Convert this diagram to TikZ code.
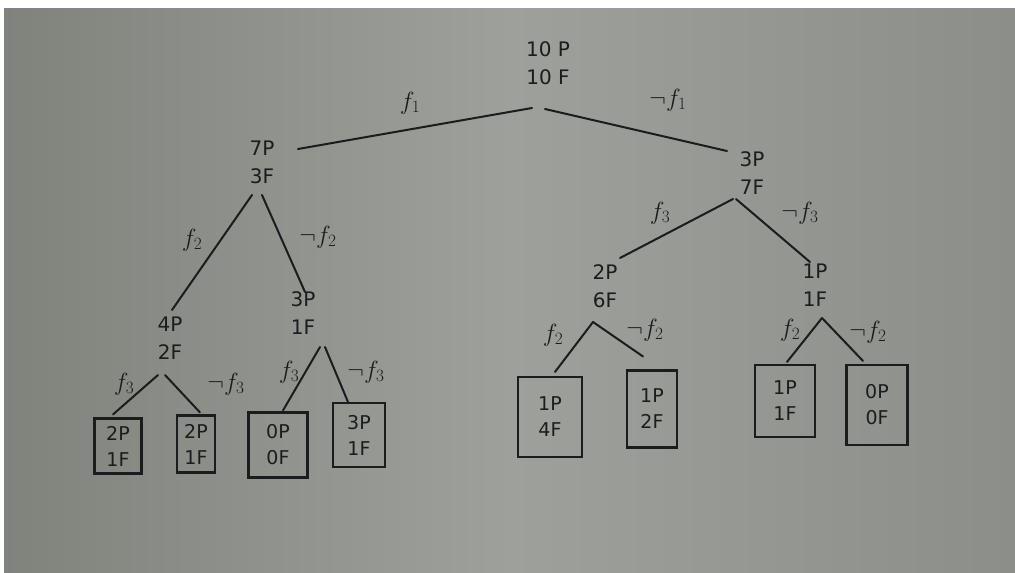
\documentclass[tikz,border=0pt]{standalone}
\usepackage{fontspec}
\setmainfont{DejaVu Sans}
\definecolor{ink}{RGB}{28,28,30}
\definecolor{paperL}{RGB}{128,130,124}
\definecolor{paperM}{RGB}{158,160,155}
\definecolor{paperR}{RGB}{140,142,137}
\tikzset{
  inner/.style={align=center, inner sep=0pt, font=\fontsize{20}{28}\selectfont, text=ink},
  leaf/.style={draw=ink, line width=2.1pt, align=center, inner sep=0pt, font=\fontsize{19}{26}\selectfont, text=ink},
  lbl/.style={inner sep=0pt, font=\fontsize{24}{26}\selectfont, text=ink},
  branch/.style={draw=ink, line width=2pt, line cap=round}
}
\begin{document}
\begin{tikzpicture}[x=1pt,y=-1pt]
\useasboundingbox (0,0) rectangle (1015,573);
\fill[white] (0,0) rectangle (1015,573);
\shade[left color=paperL, right color=paperR, middle color=paperM] (4,8) rectangle (1015,573);

% inner nodes
\node[inner] (root) at (548,63) {10 P\\10 F};
\node[inner] (n7) at (262,162) {7P\\3F};
\node[inner] (n3) at (752,173) {3P\\7F};
\node[inner] (n4) at (170,338) {4P\\2F};
\node[inner] (n31) at (303,313) {3P\\1F};
\node[inner] (n26) at (605,286) {2P\\6F};
\node[inner] (n11) at (815,285) {1P\\1F};

% leaves
\node[leaf, minimum width=47, minimum height=55] (L1) at (118,446) {2P\\1F};
\node[leaf, minimum width=38, minimum height=57] (L2) at (196,444) {2P\\1F};
\node[leaf, minimum width=59, minimum height=65] (L3) at (278,445) {0P\\0F};
\node[leaf, minimum width=52, minimum height=64] (L4) at (359,435) {3P\\1F};
\node[leaf, minimum width=64, minimum height=80] (R1) at (550,417) {1P\\4F};
\node[leaf, minimum width=50, minimum height=77] (R2) at (652,409) {1P\\2F};
\node[leaf, minimum width=60, minimum height=72] (R3) at (785,401) {1P\\1F};
\node[leaf, minimum width=61, minimum height=80] (R4) at (877,405) {0P\\0F};

% branches
\draw[branch] ([shift={(-16,45)}]root.center) -- ([shift={(36,-13)}]n7.center);
\draw[branch] ([shift={(-3,46)}]root.center) -- ([shift={(-25,-22)}]n3.center);

\draw[branch] ([shift={(-10,33)}]n7.center) -- ([shift={(2,-28)}]n4.center);
\draw[branch] ([shift={(0,33)}]n7.center) -- ([shift={(2,-21)}]n31.center);

\draw[branch] ([shift={(-12,37)}]n4.center) -- ([shift={(-5,-3)}]L1.north);
\draw[branch] ([shift={(-5,37)}]n4.center) -- ([shift={(4,-2)}]L2.north);
\draw[branch] ([shift={(17,34)}]n31.center) -- ([shift={(5,-1)}]L3.north);
\draw[branch] ([shift={(22,34)}]n31.center) -- ([shift={(-11,0)}]L4.north);

\draw[branch] ([shift={(-19,26)}]n3.center) -- ([shift={(15,-28)}]n26.center);
\draw[branch] ([shift={(-16,26)}]n3.center) -- ([shift={(-5,-23)}]n11.center);

\draw[branch] ([shift={(-12,36)}]n26.center) -- ([shift={(5,-4)}]R1.north);
\draw[branch] ([shift={(-12,36)}]n26.center) -- ([shift={(-9,-13)}]R2.north);
\draw[branch] ([shift={(7,33)}]n11.center) -- ([shift={(2,-2)}]R3.north);
\draw[branch] ([shift={(7,33)}]n11.center) -- ([shift={(-14,-3)}]R4.north);

% labels
\node[lbl] (a1) at (410,103) {$f_1$};
\node[lbl] (a2) at (668,100) {$\neg f_1$};
\node[lbl] (a3) at (192,240) {$f_2$};
\node[lbl] (a4) at (318,237) {$\neg f_2$};
\node[lbl] (a5) at (124,384) {$f_3$};
\node[lbl] (a6) at (226,384) {$\neg f_3$};
\node[lbl] (a7) at (289,372) {$f_3$};
\node[lbl] (a8) at (366,372) {$\neg f_3$};
\node[lbl] (a9) at (660,213) {$f_3$};
\node[lbl] (a10) at (800,213) {$\neg f_3$};
\node[lbl] (a11) at (553,335) {$f_2$};
\node[lbl] (a12) at (645,330) {$\neg f_2$};
\node[lbl] (a13) at (790,330) {$f_2$};
\node[lbl] (a14) at (868,332) {$\neg f_2$};
\end{tikzpicture}
\end{document}
